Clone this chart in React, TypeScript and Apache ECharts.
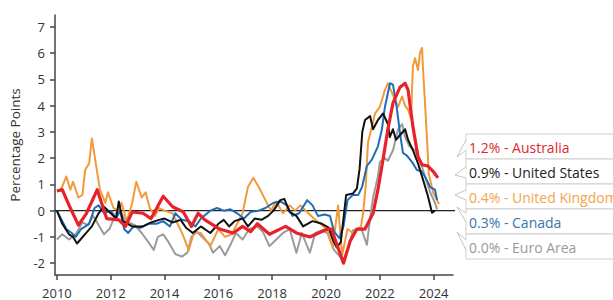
import React, { useEffect, useRef } from "react";
import * as echarts from "echarts";

const yearTicks = [2010, 2012, 2014, 2016, 2018, 2020, 2022, 2024];
const valueTicks = [-2, -1, 0, 1, 2, 3, 4, 5, 6, 7];

const australia: [number, number][] = [
  [2010.0, 0.75], [2010.2, 0.8], [2010.5, 0.1], [2010.8, -0.55], [2011.1, -0.1], [2011.5, 0.8],
  [2011.85, -0.3], [2012.3, -0.35], [2012.55, -0.6], [2012.8, -0.05], [2013.2, -0.1], [2013.5, -0.3],
  [2013.95, 0.55], [2014.3, 0.15], [2014.7, -0.05], [2015.0, -0.6], [2015.25, -0.1], [2015.5, -0.35],
  [2016.05, -0.7], [2016.55, -0.85], [2016.9, -0.6], [2017.2, -0.8], [2017.45, -0.5], [2017.9, -0.9],
  [2018.5, -0.6], [2018.9, -0.85], [2019.4, -1.0], [2020.05, -0.7], [2020.2, -0.7], [2020.65, -2.0],
  [2020.9, -1.15], [2021.15, -0.7], [2021.45, -0.7], [2021.75, -0.1], [2021.93, 0.8], [2022.12, 1.95],
  [2022.3, 3.1], [2022.49, 4.1], [2022.75, 4.7], [2022.94, 4.85], [2023.05, 4.6], [2023.23, 3.2],
  [2023.42, 2.05], [2023.57, 1.75], [2023.79, 1.7], [2023.98, 1.5], [2024.16, 1.25],
];

const unitedStates: [number, number][] = [
  [2010.0, 0.0], [2010.2, -0.5], [2010.45, -0.9], [2010.6, -1.0], [2010.75, -1.25], [2011.0, -0.95],
  [2011.3, -0.6], [2011.55, -0.1], [2011.75, 0.15], [2012.0, -0.1], [2012.2, -0.3], [2012.3, 0.35],
  [2012.45, -0.4], [2012.8, -0.6], [2013.2, -0.6], [2013.5, -0.45], [2013.8, -0.35], [2014.0, -0.3],
  [2014.3, -0.45], [2014.6, -0.35], [2014.8, -0.65], [2015.05, -0.85], [2015.35, -0.6], [2015.7, -0.85],
  [2016.0, -0.5], [2016.2, -0.35], [2016.4, -0.6], [2016.6, -0.4], [2016.9, -0.3], [2017.1, -0.6],
  [2017.35, -0.3], [2017.6, -0.35], [2017.85, -0.2], [2018.05, 0.0], [2018.3, 0.4], [2018.45, 0.45],
  [2018.65, -0.05], [2018.9, -0.2], [2019.15, -0.6], [2019.5, -0.4], [2019.85, -0.5], [2020.1, -0.65],
  [2020.25, -1.1], [2020.4, -1.4], [2020.55, -1.2], [2020.75, 0.6], [2021.0, 0.65], [2021.15, 0.85],
  [2021.25, 1.6], [2021.35, 3.0], [2021.45, 3.45], [2021.64, 3.6], [2021.75, 3.1], [2021.93, 3.45],
  [2022.12, 3.7], [2022.3, 3.3], [2022.37, 2.8], [2022.49, 3.1], [2022.6, 2.7], [2022.94, 3.1],
  [2023.05, 2.7], [2023.23, 2.3], [2023.42, 1.8], [2023.6, 1.2], [2023.79, 0.55], [2023.94, -0.08],
  [2024.05, 0.0],
];

const unitedKingdom: [number, number][] = [
  [2010.0, 0.75], [2010.15, 0.8], [2010.35, 1.3], [2010.5, 0.8], [2010.6, 1.1], [2010.8, 0.5],
  [2010.95, 0.6], [2011.05, 1.55], [2011.2, 1.8], [2011.3, 2.75], [2011.5, 1.45], [2011.6, 0.8],
  [2011.8, 0.3], [2011.9, 0.7], [2012.1, 0.1], [2012.3, 0.0], [2012.4, 0.3], [2012.6, -0.4],
  [2012.8, 0.3], [2012.95, 1.1], [2013.15, 0.5], [2013.3, 0.7], [2013.45, 0.1], [2013.65, -0.2],
  [2013.8, 0.1], [2014.0, 0.0], [2014.3, -0.1], [2014.65, -0.85], [2014.9, -1.5], [2015.1, -0.8],
  [2015.35, -0.85], [2015.7, -1.35], [2016.0, -0.7], [2016.25, -1.0], [2016.5, -0.9], [2016.9, -0.1],
  [2017.1, 0.9], [2017.3, 1.25], [2017.5, 0.9], [2017.75, 0.4], [2017.95, 0.0], [2018.15, 0.35],
  [2018.4, -0.1], [2018.65, 0.2], [2018.85, 0.0], [2019.05, 0.2], [2019.3, -0.05], [2019.55, -0.3],
  [2019.8, -0.5], [2020.05, -0.75], [2020.25, -1.4], [2020.45, 0.2], [2020.6, -1.7], [2020.8, -0.7],
  [2021.0, -0.85], [2021.3, -0.6], [2021.38, -0.1], [2021.48, 1.0], [2021.56, 2.6], [2021.71, 3.2],
  [2021.82, 3.7], [2022.0, 3.95], [2022.19, 4.6], [2022.3, 4.85], [2022.49, 4.4], [2022.68, 3.95],
  [2022.83, 4.35], [2022.94, 4.0], [2023.05, 3.85], [2023.16, 3.5], [2023.23, 5.5], [2023.31, 5.8],
  [2023.42, 5.35], [2023.49, 6.0], [2023.57, 6.2], [2023.6, 5.5], [2023.68, 4.1], [2023.75, 2.8],
  [2023.82, 1.4], [2023.98, 0.7], [2024.13, 0.4], [2024.2, 0.25],
];

const canada: [number, number][] = [
  [2010.0, 0.0], [2010.15, -0.3], [2010.35, -0.7], [2010.55, -0.85], [2010.7, -1.0], [2010.9, -0.7],
  [2011.2, -0.5], [2011.4, 0.1], [2011.55, 0.2], [2011.75, -0.1], [2012.0, 0.0], [2012.2, -0.3],
  [2012.35, 0.0], [2012.5, -0.7], [2012.65, -0.85], [2012.85, -0.6], [2013.1, -0.65], [2013.4, -0.5],
  [2013.7, -0.5], [2013.95, -0.4], [2014.2, -0.6], [2014.4, -0.1], [2014.65, -0.35], [2014.9, -0.4],
  [2015.15, -0.6], [2015.35, -0.3], [2015.7, 0.0], [2015.95, 0.1], [2016.2, 0.0], [2016.45, 0.05],
  [2016.7, -0.1], [2016.95, -0.3], [2017.2, -0.05], [2017.5, 0.0], [2017.75, 0.1], [2018.05, 0.3],
  [2018.3, 0.35], [2018.55, 0.2], [2018.75, -0.2], [2019.0, -0.1], [2019.3, 0.4], [2019.5, 0.2],
  [2019.7, -0.2], [2019.95, -0.15], [2020.15, -0.2], [2020.3, -0.8], [2020.5, -1.05], [2020.65, -0.6],
  [2020.8, 0.4], [2021.0, 0.6], [2021.2, 0.6], [2021.34, 0.9], [2021.52, 1.7], [2021.71, 1.95],
  [2021.93, 2.45], [2022.08, 3.1], [2022.19, 3.95], [2022.38, 4.85], [2022.49, 4.8], [2022.64, 3.85],
  [2022.75, 2.95], [2022.86, 2.2], [2023.0, 2.1], [2023.12, 1.95], [2023.23, 1.8], [2023.38, 1.55],
  [2023.55, 1.5], [2023.68, 1.3], [2023.87, 0.9], [2024.05, 0.8], [2024.13, 0.4],
];

const euroArea: [number, number][] = [
  [2010.0, -1.1], [2010.2, -0.9], [2010.45, -1.1], [2010.7, -0.9], [2010.95, -0.45], [2011.15, -0.55],
  [2011.35, -0.2], [2011.55, -0.55], [2011.75, -0.9], [2011.95, -0.7], [2012.2, -0.1], [2012.4, -0.1],
  [2012.55, -0.4], [2012.9, -0.55], [2013.15, -0.85], [2013.4, -1.2], [2013.6, -1.5], [2013.75, -1.0],
  [2013.95, -0.9], [2014.15, -1.2], [2014.4, -1.65], [2014.65, -1.75], [2014.85, -1.6], [2015.0, -1.0],
  [2015.2, -0.8], [2015.4, -1.0], [2015.65, -1.25], [2015.8, -1.6], [2016.05, -1.35], [2016.25, -1.7],
  [2016.45, -1.3], [2016.65, -0.85], [2016.9, -1.1], [2017.15, -0.7], [2017.45, -0.6], [2017.65, -0.8],
  [2017.9, -1.35], [2018.15, -1.1], [2018.4, -0.85], [2018.65, -0.7], [2018.9, -1.6], [2019.1, -0.85],
  [2019.4, -1.6], [2019.6, -0.85], [2019.85, -0.75], [2020.05, -0.85], [2020.3, -1.5], [2020.65, -1.9],
  [2020.85, -1.4], [2021.0, -0.75], [2021.3, -0.65], [2021.52, -1.3], [2021.65, -0.2], [2021.75, 0.5],
  [2021.93, 1.3], [2022.0, 1.85], [2022.19, 2.0], [2022.3, 1.9], [2022.49, 2.3], [2022.68, 3.1],
  [2022.83, 3.3], [2022.94, 2.8], [2023.1, 2.45], [2023.3, 2.3], [2023.5, 1.9], [2023.68, 1.3],
  [2023.87, 0.7], [2024.05, 0.3], [2024.13, 0.05],
];

const legendLabels = [
  "1.2% - Australia",
  "0.9% - United States",
  "0.4% - United Kingdom",
  "0.3% - Canada",
  "0.0% - Euro Area",
];

const X_MIN = 2009.93;
const X_MAX = 2024.72;
const Y_MIN = -2.45;
const Y_MAX = 7.45;

export default function App() {
  const ref = useRef<HTMLDivElement>(null);

  useEffect(() => {
    if (!ref.current) return;
    const chart = echarts.init(ref.current, null, { renderer: "svg" });
    const font = "'Open Sans', 'Noto Sans', sans-serif";

    const textColors = ["#e0282e", "#222222", "#f2a54c", "#3b74ab", "#9a9a9a"];
    const boxX = 466;
    const boxTop = 134;
    const boxH = 25;
    const pointers = [
      [6, 23, 16],
      [8, 16, 19],
      [6, 11, 16],
      [4, -2, 13],
      [6, -2, 16],
    ];
    const tipX = [457, 455, 455, 457, 457];

    const graphics: any[] = [];
    legendLabels.forEach((_label, i) => {
      const top = boxTop + i * boxH;
      graphics.push({
        type: "rect",
        shape: { x: boxX, y: top, width: 170, height: boxH },
        style: { fill: "#ffffff", stroke: "#cfcfcf", lineWidth: 1 },
        z: 10,
      });
    });
    legendLabels.forEach((label, i) => {
      const top = boxTop + i * boxH;
      const p = pointers[i];
      graphics.push({
        type: "polygon",
        shape: {
          points: [
            [boxX + 0.6, top + p[0]],
            [tipX[i], top + p[1]],
            [boxX + 0.6, top + p[2]],
          ],
        },
        style: { fill: "#ffffff", stroke: null },
        z: 11,
      });
      graphics.push({
        type: "polyline",
        shape: {
          points: [
            [boxX, top + p[0]],
            [tipX[i], top + p[1]],
            [boxX, top + p[2]],
          ],
        },
        style: { stroke: "#c4c4c4", lineWidth: 1, fill: null },
        z: 12,
      });
      graphics.push({
        type: "text",
        x: boxX + 3,
        y: top + boxH / 2 + 0.5,
        style: {
          text: label,
          fill: textColors[i],
          font: `14px ${font}`,
          textVerticalAlign: "middle",
          verticalAlign: "middle",
        },
        z: 12,
      });
    });

    const lineSeries = (name: string, data: [number, number][], color: string, width: number, z: number) => ({
      type: "line",
      name,
      data,
      showSymbol: false,
      symbol: "none",
      lineStyle: { color, width, join: "round" },
      z,
      silent: true,
    });

    chart.setOption({
      animation: false,
      backgroundColor: "#ffffff",
      grid: { left: 55, top: 15, width: 398, height: 260, containLabel: false },
      xAxis: {
        type: "value",
        min: X_MIN,
        max: X_MAX,
        axisLine: { show: true, onZero: false, lineStyle: { color: "#444", width: 1.5 } },
        axisTick: { show: true, customValues: yearTicks, length: 5, lineStyle: { color: "#444", width: 1.5 } },
        axisLabel: {
          customValues: yearTicks,
          color: "#333",
          fontSize: 13,
          fontFamily: font,
          margin: 11,
          formatter: (v: number) => String(Math.round(v)),
        },
        splitLine: { show: false },
      },
      yAxis: {
        type: "value",
        min: Y_MIN,
        max: Y_MAX,
        name: "Percentage Points",
        nameLocation: "middle",
        nameGap: 27,
        nameTextStyle: { color: "#333", fontSize: 13.5, fontFamily: font },
        axisLine: { show: true, onZero: false, lineStyle: { color: "#444", width: 1.5 } },
        axisTick: { show: true, customValues: valueTicks, length: 5, lineStyle: { color: "#444", width: 1.5 } },
        axisLabel: {
          customValues: valueTicks,
          color: "#333",
          fontSize: 13,
          fontFamily: font,
          margin: 10,
          formatter: (v: number) => String(Math.round(v)),
        },
        splitLine: { show: false },
      },
      series: [
        {
          type: "line",
          name: "zero",
          data: [[X_MIN, 0], [X_MAX + 0.1, 0]],
          showSymbol: false,
          symbol: "none",
          lineStyle: { color: "#222", width: 1.2 },
          z: 1,
          silent: true,
        },
        lineSeries("Euro Area", euroArea, "#9b9b9b", 2, 2),
        lineSeries("United Kingdom", unitedKingdom, "#f29a3a", 2, 3),
        lineSeries("Canada", canada, "#1f6db6", 2, 4),
        lineSeries("United States", unitedStates, "#111111", 2, 5),
        lineSeries("Australia", australia, "#e8222a", 3.2, 6),
      ],
      graphic: graphics,
    });

    return () => chart.dispose();
  }, []);

  return (
    <div
      ref={ref}
      style={{ position: "fixed", left: 0, top: 0, width: 613, height: 300, background: "#fff" }}
    />
  );
}
